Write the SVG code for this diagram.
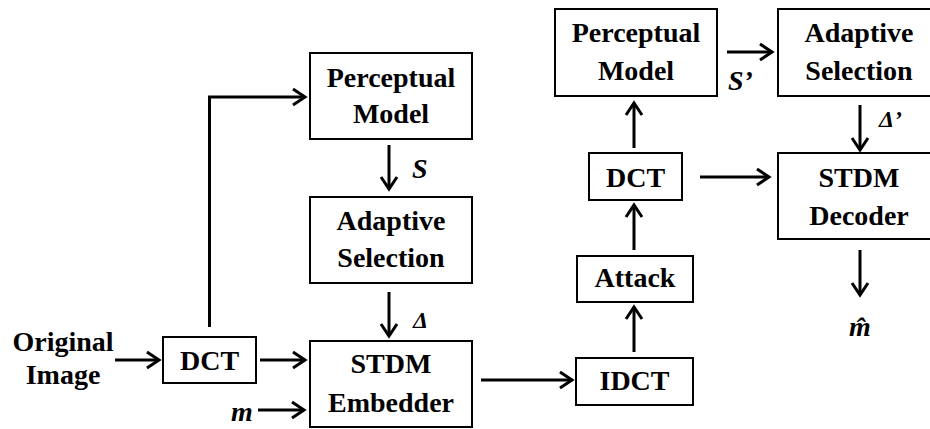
<svg xmlns="http://www.w3.org/2000/svg" width="930" height="429" viewBox="0 0 930 429">
<style>
text{font-family:"Liberation Serif",serif;font-weight:bold;font-size:28px;fill:#000}
.m{text-anchor:middle}
.i{font-style:italic}
.box{fill:#fff;stroke:#000;stroke-width:2}
</style>
<defs>
<marker id="ah" markerUnits="userSpaceOnUse" markerWidth="18" markerHeight="22" viewBox="0 0 18 22" refX="15" refY="11" orient="auto">
<path d="M3,3 L15,11 L3,19" fill="none" stroke="#000" stroke-width="3"/>
</marker>
</defs>
<rect width="930" height="429" fill="#fff"/>
<g id="connectors" fill="none" stroke="#000" stroke-width="3">
<path d="M115,360 H159" marker-end="url(#ah)"/>
<path d="M260,360 H305" marker-end="url(#ah)"/>
<path d="M258,410 H304" marker-end="url(#ah)"/>
<path d="M209.5,327 V97 H305" marker-end="url(#ah)"/>
<path d="M389,145 V189" marker-end="url(#ah)"/>
<path d="M389,292 V336" marker-end="url(#ah)"/>
<path d="M481,380 H572" marker-end="url(#ah)"/>
<path d="M634,352 V307" marker-end="url(#ah)"/>
<path d="M634,250 V205" marker-end="url(#ah)"/>
<path d="M634,148 V103" marker-end="url(#ah)"/>
<path d="M700,177 H769" marker-end="url(#ah)"/>
<path d="M727,52 H772" marker-end="url(#ah)"/>
<path d="M860,105 V150" marker-end="url(#ah)"/>
<path d="M860,250 V295" marker-end="url(#ah)"/>
</g>
<g id="labels">
<text class="m" x="63" y="351">Original</text>
<text class="m" x="63" y="384">Image</text>
<text class="i" x="231" y="421">m</text>
<text class="i" x="412" y="178">S</text>
<text class="i" x="413" y="328" style="font-size:24px">&#916;</text>
<text class="i" x="728" y="90">S&#8217;</text>
<text class="i" x="879" y="127" style="font-size:24px">&#916;&#8217;</text>
<text class="i m" x="860" y="336">m&#770;</text>
</g>
<g id="dct1"><rect class="box" x="163" y="337" width="93" height="46"/><text class="m" x="209.5" y="370">DCT</text></g>
<g id="pm1"><rect class="box" x="310" y="53" width="162" height="86"/><text class="m" x="391" y="87">Perceptual</text><text class="m" x="391" y="123">Model</text></g>
<g id="as1"><rect class="box" x="310" y="197" width="162" height="86"/><text class="m" x="391" y="230">Adaptive</text><text class="m" x="391" y="267">Selection</text></g>
<g id="emb"><rect class="box" x="310" y="341" width="162" height="86"/><text class="m" x="391" y="373">STDM</text><text class="m" x="391" y="412">Embedder</text></g>
<g id="idct"><rect class="box" x="576" y="358" width="117" height="47"/><text class="m" x="634.5" y="390">IDCT</text></g>
<g id="attack"><rect class="box" x="577" y="256" width="116" height="46"/><text class="m" x="635" y="287">Attack</text></g>
<g id="dct2"><rect class="box" x="589" y="153" width="93" height="47"/><text class="m" x="635.5" y="187">DCT</text></g>
<g id="pm2"><rect class="box" x="555" y="9" width="162" height="87"/><text class="m" x="636" y="42">Perceptual</text><text class="m" x="636" y="80">Model</text></g>
<g id="as2"><rect class="box" x="778" y="9" width="162" height="87"/><text class="m" x="859" y="42">Adaptive</text><text class="m" x="859" y="80">Selection</text></g>
<g id="dec"><rect class="box" x="778" y="153" width="162" height="86"/><text class="m" x="859" y="187">STDM</text><text class="m" x="859" y="225">Decoder</text></g>
</svg>
